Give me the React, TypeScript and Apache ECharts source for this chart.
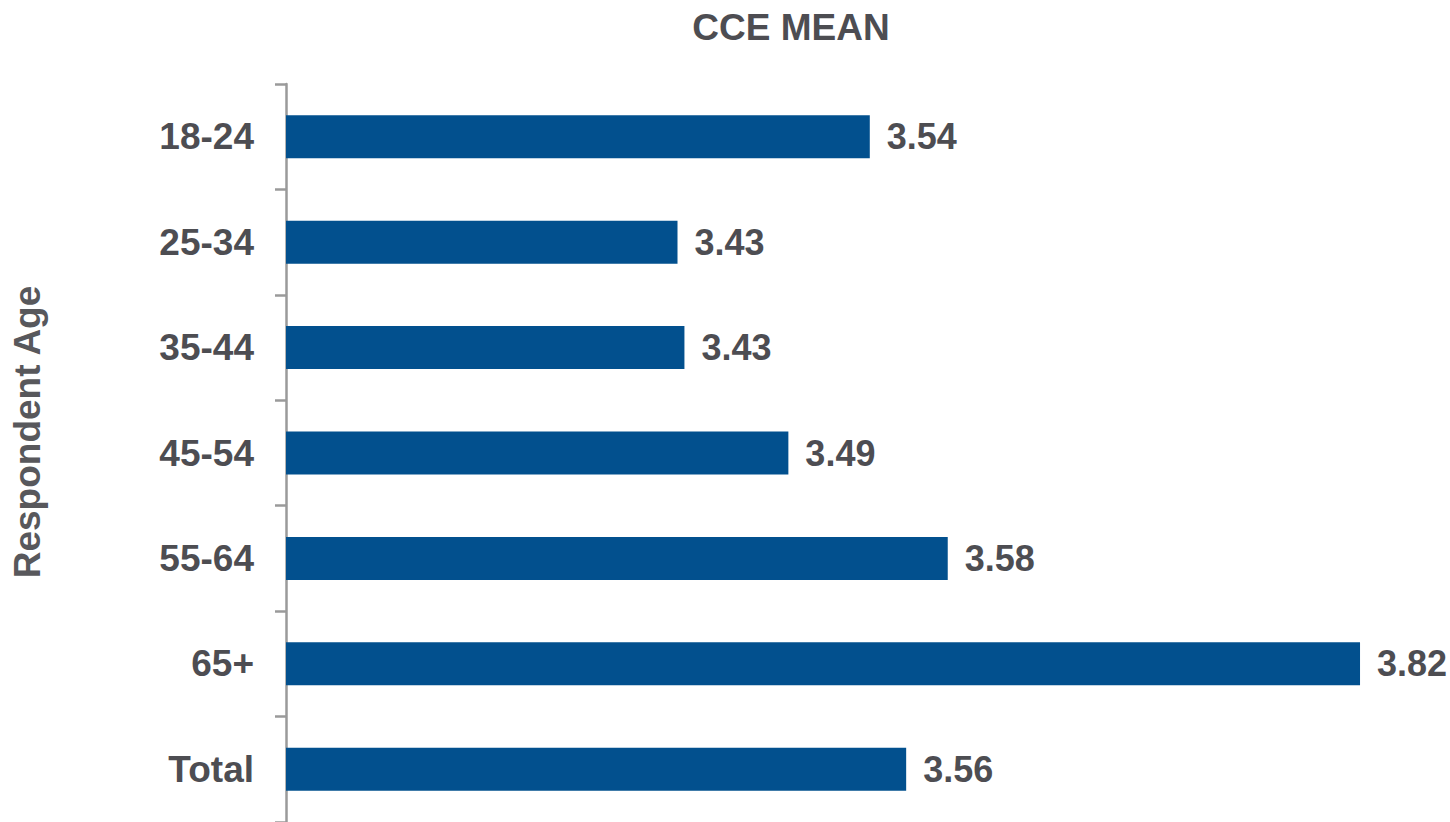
import React, { useEffect, useRef } from "react";
import * as echarts from "echarts";

const categories = ["18-24", "25-34", "35-44", "45-54", "55-64", "65+", "Total"];
const meanValues = [3.537, 3.426, 3.43, 3.49, 3.582, 3.82, 3.558];
const chartTitle = "CCE MEAN";
const axisName = "Respondent Age";

export default function App() {
  const ref = useRef<HTMLDivElement>(null);
  useEffect(() => {
    if (!ref.current) return;
    const chart = echarts.init(ref.current, null, { renderer: "svg" });
    const font = "'Liberation Sans', Arial, sans-serif";
    chart.setOption({
      animation: false,
      backgroundColor: "#ffffff",
      title: {
        text: chartTitle,
        left: 786,
        textAlign: "center",
        top: 4,
        textStyle: { fontFamily: font, fontWeight: "bold", fontSize: 37, color: "#4d4d52" },
      },
      graphic: [
        {
          type: "text",
          x: 27,
          y: 432,
          rotation: Math.PI / 2,
          style: {
            text: axisName,
            fontFamily: font,
            fontWeight: "bold",
            fontSize: 37,
            fill: "#58585c",
            textAlign: "center",
            textVerticalAlign: "middle",
          },
        },
      ],
      grid: { left: 286, top: 84, width: 1126, height: 740, containLabel: false },
      xAxis: {
        type: "value",
        min: 3.2,
        max: 3.85,
        show: false,
      },
      yAxis: {
        type: "category",
        data: categories,
        inverse: true,
        axisLine: { show: true, lineStyle: { color: "#9a9a9a", width: 2.5 } },
        axisTick: { show: true, length: 11, lineStyle: { color: "#9a9a9a", width: 2.5 } },
        axisLabel: {
          margin: 32,
          fontFamily: font,
          fontWeight: "bold",
          fontSize: 37,
          color: "#4d4d52",
        },
      },
      series: [
        {
          type: "bar",
          data: meanValues,
          barWidth: 43,
          itemStyle: { color: "#02508e" },
          label: {
            show: true,
            position: "right",
            distance: 17,
            formatter: (p: any) => Number(p.value).toFixed(2),
            fontFamily: font,
            fontWeight: "bold",
            fontSize: 36,
            color: "#4d4d52",
          },
        },
      ],
    });
    return () => chart.dispose();
  }, []);
  return (
    <div
      ref={ref}
      style={{ position: "fixed", left: 0, top: 0, width: 1450, height: 822, background: "#fff" }}
    />
  );
}
